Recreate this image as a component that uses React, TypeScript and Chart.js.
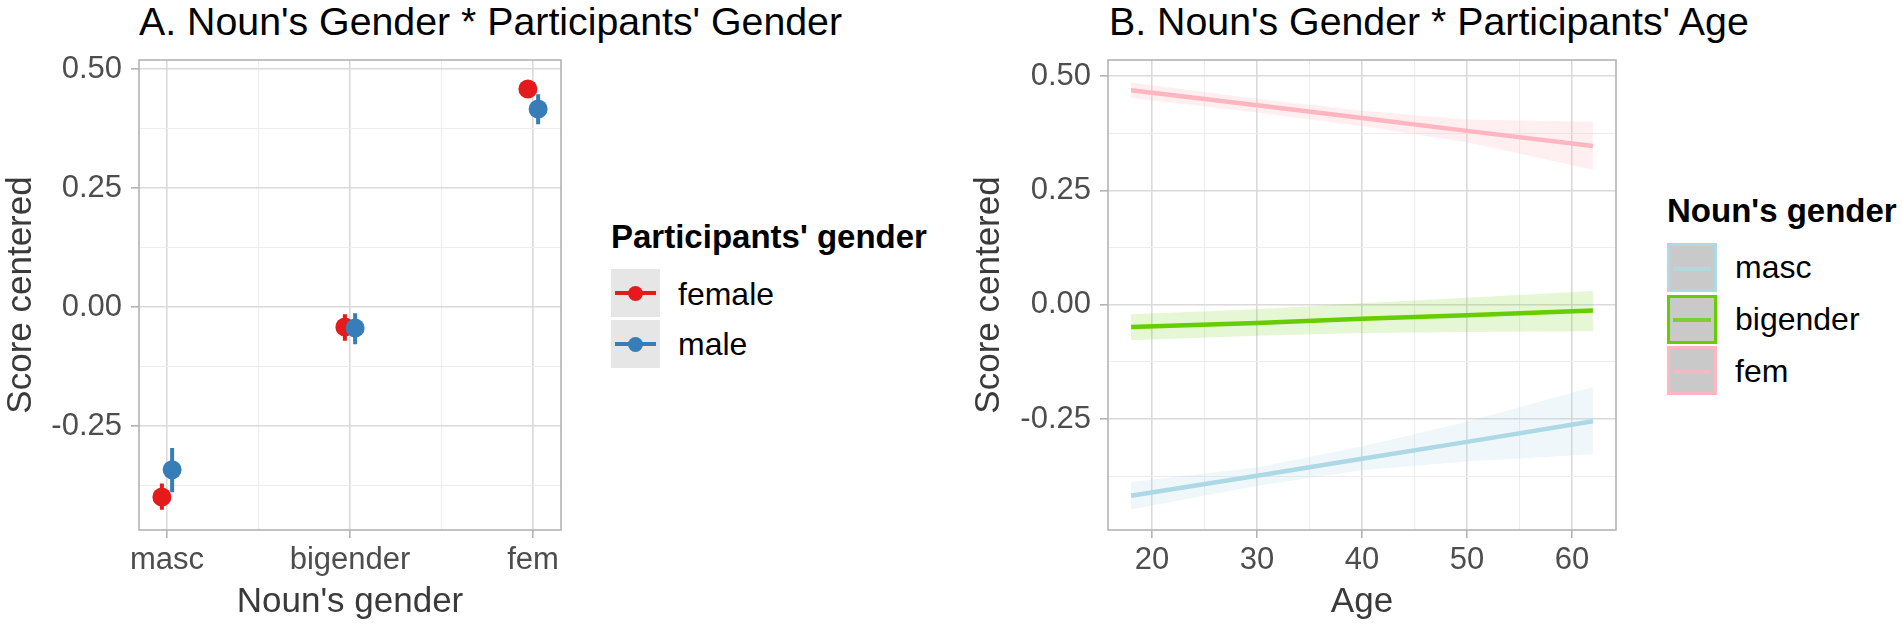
import React, { useEffect, useRef } from "react";
import Chart from "chart.js/auto";

// ---- panel A: score by noun's gender, split by participants' gender
const NOUN_GENDERS = ["masc", "bigender", "fem"];
const PARTICIPANT_GENDERS = ["female", "male"];
const FEMALE_SCORE = [-0.399, -0.042, 0.458];
const FEMALE_LOW = [-0.426, -0.071, 0.443];
const FEMALE_HIGH = [-0.371, -0.015, 0.473];
const MALE_SCORE = [-0.342, -0.044, 0.416];
const MALE_LOW = [-0.389, -0.078, 0.384];
const MALE_HIGH = [-0.296, -0.013, 0.447];

// ---- panel B: linear fit of score on age, per noun's gender
const AGES = [18, 30, 40, 50, 62];
const MASC_FIT = [-0.418, -0.374, -0.337, -0.3, -0.255];
const MASC_UPPER = [-0.388, -0.356, -0.31, -0.256, -0.18];
const MASC_LOWER = [-0.448, -0.396, -0.362, -0.343, -0.327];
const BIGENDER_FIT = [-0.049, -0.04, -0.031, -0.023, -0.013];
const BIGENDER_UPPER = [-0.021, -0.01, 0.003, 0.015, 0.03];
const BIGENDER_LOWER = [-0.078, -0.068, -0.062, -0.06, -0.058];
const FEM_FIT = [0.469, 0.436, 0.408, 0.38, 0.347];
const FEM_UPPER = [0.486, 0.45, 0.424, 0.405, 0.4];
const FEM_LOWER = [0.452, 0.42, 0.39, 0.355, 0.295];

// ---- ticks
const SCORE_TICKS = [-0.375, -0.25, -0.125, 0, 0.125, 0.25, 0.375, 0.5];
const SCORE_LABELED = [-0.25, 0, 0.25, 0.5];
const NOUN_TICKS = [1, 1.5, 2, 2.5, 3];
const NOUN_LABELED = [1, 2, 3];
const AGE_TICKS = [20, 25, 30, 35, 40, 45, 50, 55, 60];
const AGE_LABELED = [20, 30, 40, 50, 60];

const FONT = '"Liberation Sans", Arial, Helvetica, sans-serif';
const RED = "#E41A1C";
const BLUE = "#377EB8";
const MASC_COLOR = "#ADD8E6";
const BIGENDER_COLOR = "#66CD00";
const FEM_COLOR = "#FFB6C1";
const GRID_MAJOR = "#DADADA";
const GRID_MINOR = "#EDEDED";
const BORDER = "#B3B3B3";
const TICK_TEXT = "#4D4D4D";
const TITLE_TEXT = "#3A3A3A";
const DODGE = 0.028;

Chart.defaults.font.family = FONT;

const has = (list: number[], v: number) => list.some((m) => Math.abs(m - v) < 1e-9);

function axis(
  ticksAt: number[],
  labeled: number[],
  label: (v: number) => string,
  min: number,
  max: number,
  isY: boolean,
  size: number,
  titleText: string
) {
  const major = (c: any) => !!c.tick && has(labeled, c.tick.value);
  return {
    type: "linear",
    min,
    max,
    afterBuildTicks: (s: any) => {
      s.ticks = ticksAt.map((value) => ({ value }));
    },
    afterFit: (s: any) => {
      if (isY) s.width = size;
      else s.height = size;
    },
    ticks: {
      autoSkip: false,
      maxRotation: 0,
      padding: isY ? 9 : 4,
      color: TICK_TEXT,
      font: { size: 31 },
      callback: (v: number) => (has(labeled, v) ? label(v) : ""),
    },
    grid: {
      color: (c: any) => (major(c) ? GRID_MAJOR : GRID_MINOR),
      lineWidth: (c: any) => (major(c) ? 1.6 : 1.1),
      tickColor: (c: any) => (major(c) ? BORDER : "rgba(0,0,0,0)"),
      tickLength: 8,
      tickWidth: 1.6,
    },
    border: { display: false },
    title: {
      display: true,
      text: titleText,
      color: TITLE_TEXT,
      font: { size: 35 },
      padding: { top: 0, bottom: isY ? 0 : 3 },
    },
  };
}

const panelBorder = {
  id: "panelBorder",
  afterDatasetsDraw(chart: any) {
    const { ctx, chartArea: a } = chart;
    ctx.save();
    ctx.strokeStyle = BORDER;
    ctx.lineWidth = 1.6;
    ctx.strokeRect(a.left, a.top, a.right - a.left, a.bottom - a.top);
    ctx.restore();
  },
};

const rangeData = (low: number[], high: number[], shift: number) =>
  low.flatMap((lo, i) => [
    { x: i + 1 + shift, y: lo },
    { x: i + 1 + shift, y: high[i] },
    { x: i + 1 + shift, y: null },
  ]);

const pointData = (score: number[], shift: number) =>
  score.map((y, i) => ({ x: i + 1 + shift, y }));

const ageData = (values: number[]) => AGES.map((x, i) => ({ x, y: values[i] }));

function configA(): any {
  const bar = (low: number[], high: number[], shift: number, color: string, order: number) => ({
    data: rangeData(low, high, shift),
    borderColor: color,
    borderWidth: 4,
    borderCapStyle: "butt",
    pointRadius: 0,
    spanGaps: false,
    fill: false,
    order,
  });
  const dots = (score: number[], shift: number, color: string, order: number) => ({
    data: pointData(score, shift),
    showLine: false,
    pointRadius: 9.5,
    pointBorderWidth: 0,
    pointBackgroundColor: color,
    borderColor: color,
    order,
  });
  return {
    type: "line",
    data: {
      datasets: [
        bar(FEMALE_LOW, FEMALE_HIGH, -DODGE, RED, 4),
        bar(MALE_LOW, MALE_HIGH, DODGE, BLUE, 3),
        dots(FEMALE_SCORE, -DODGE, RED, 2),
        dots(MALE_SCORE, DODGE, BLUE, 1),
      ],
    },
    options: {
      responsive: false,
      animation: false,
      events: [],
      layout: { padding: { top: 60, right: 39, bottom: 0, left: 0 } },
      plugins: { legend: { display: false }, tooltip: { enabled: false } },
      scales: {
        x: axis(NOUN_TICKS, NOUN_LABELED, (v) => NOUN_GENDERS[Math.round(v) - 1], 0.847, 3.153, false, 96, "Noun's gender"),
        y: axis(SCORE_TICKS, SCORE_LABELED, (v) => v.toFixed(2), -0.4685, 0.519, true, 139, "Score centered"),
      },
    },
    plugins: [panelBorder],
  };
}

function configB(): any {
  const groups = [
    { fit: MASC_FIT, up: MASC_UPPER, lo: MASC_LOWER, color: MASC_COLOR, band: "rgba(173,216,230,0.2)" },
    { fit: BIGENDER_FIT, up: BIGENDER_UPPER, lo: BIGENDER_LOWER, color: BIGENDER_COLOR, band: "rgba(102,205,0,0.17)" },
    { fit: FEM_FIT, up: FEM_UPPER, lo: FEM_LOWER, color: FEM_COLOR, band: "rgba(255,182,193,0.22)" },
  ];
  const datasets = groups.flatMap((g) => [
    { data: ageData(g.up), borderColor: "rgba(0,0,0,0)", borderWidth: 1, pointRadius: 0, fill: false, order: 5 },
    { data: ageData(g.lo), borderColor: "rgba(0,0,0,0)", borderWidth: 1, pointRadius: 0, fill: "-1", backgroundColor: g.band, order: 5 },
    { data: ageData(g.fit), borderColor: g.color, borderWidth: 4.5, pointRadius: 0, fill: false, order: 1 },
  ]);
  return {
    type: "line",
    data: { datasets },
    options: {
      responsive: false,
      animation: false,
      events: [],
      layout: { padding: { top: 60, right: 24, bottom: 0, left: 0 } },
      plugins: { legend: { display: false }, tooltip: { enabled: false } },
      scales: {
        x: axis(AGE_TICKS, AGE_LABELED, (v) => String(v), 15.8, 64.2, false, 96, "Age"),
        y: axis(SCORE_TICKS, SCORE_LABELED, (v) => v.toFixed(2), -0.4927, 0.535, true, 140, "Score centered"),
      },
    },
    plugins: [panelBorder],
  };
}

function ChartCanvas({ left, width, build }: { left: number; width: number; build: () => any }) {
  const ref = useRef<HTMLCanvasElement>(null);
  useEffect(() => {
    if (!ref.current) return;
    const chart = new Chart(ref.current, build());
    return () => chart.destroy();
  }, []);
  return (
    <canvas
      ref={ref}
      width={width}
      height={626}
      style={{ position: "absolute", left, top: 0, width, height: 626 }}
    />
  );
}

// place a single line of text so its baseline sits at `baseline`
const textAt = (left: number, baseline: number, size: number): React.CSSProperties => ({
  position: "absolute",
  left,
  top: baseline - size * 0.8465,
  fontSize: size,
  lineHeight: `${size}px`,
  whiteSpace: "nowrap",
  color: "#000",
});

const LEGEND_B = [
  { label: "masc", color: MASC_COLOR },
  { label: "bigender", color: BIGENDER_COLOR },
  { label: "fem", color: FEM_COLOR },
];

export default function App() {
  return (
    <div style={{ position: "absolute", left: 0, top: 0, width: 1902, height: 626, background: "#fff", fontFamily: FONT, overflow: "hidden" }}>
      <div style={textAt(139, 35, 39.3)}>A. Noun's Gender * Participants' Gender</div>
      <div style={textAt(1109, 35, 39.3)}>B. Noun's Gender * Participants' Age</div>

      <ChartCanvas left={0} width={600} build={configA} />
      <ChartCanvas left={968} width={672} build={configB} />

      {/* legend A */}
      <div style={{ ...textAt(611, 248, 33), fontWeight: "bold" }}>Participants' gender</div>
      {PARTICIPANT_GENDERS.map((g, i) => {
        const color = i === 0 ? RED : BLUE;
        const top = 269 + i * 51;
        return (
          <React.Fragment key={g}>
            <div style={{ position: "absolute", left: 611, top, width: 49, height: 48, background: "#E6E6E6" }}>
              <div style={{ position: "absolute", left: 4, top: 22, width: 41, height: 4, background: color }} />
              <div style={{ position: "absolute", left: 17, top: 16.5, width: 15, height: 15, borderRadius: "50%", background: color }} />
            </div>
            <div style={textAt(678, 305 + i * 50, 32)}>{g}</div>
          </React.Fragment>
        );
      })}

      {/* legend B */}
      <div style={{ ...textAt(1667, 222, 33), fontWeight: "bold" }}>Noun's gender</div>
      {LEGEND_B.map((g, i) => {
        const top = 243 + i * 51.5;
        return (
          <React.Fragment key={g.label}>
            <div
              style={{
                position: "absolute",
                left: 1667,
                top,
                width: 50,
                height: 49,
                boxSizing: "border-box",
                border: `3px solid ${g.color}`,
                background: "#C9C9C9",
              }}
            >
              <div style={{ position: "absolute", left: 3, top: 20.5, width: 38, height: 4, background: g.color, opacity: 0.75 }} />
            </div>
            <div style={textAt(1735, 278 + i * 52, 32)}>{g.label}</div>
          </React.Fragment>
        );
      })}
    </div>
  );
}
